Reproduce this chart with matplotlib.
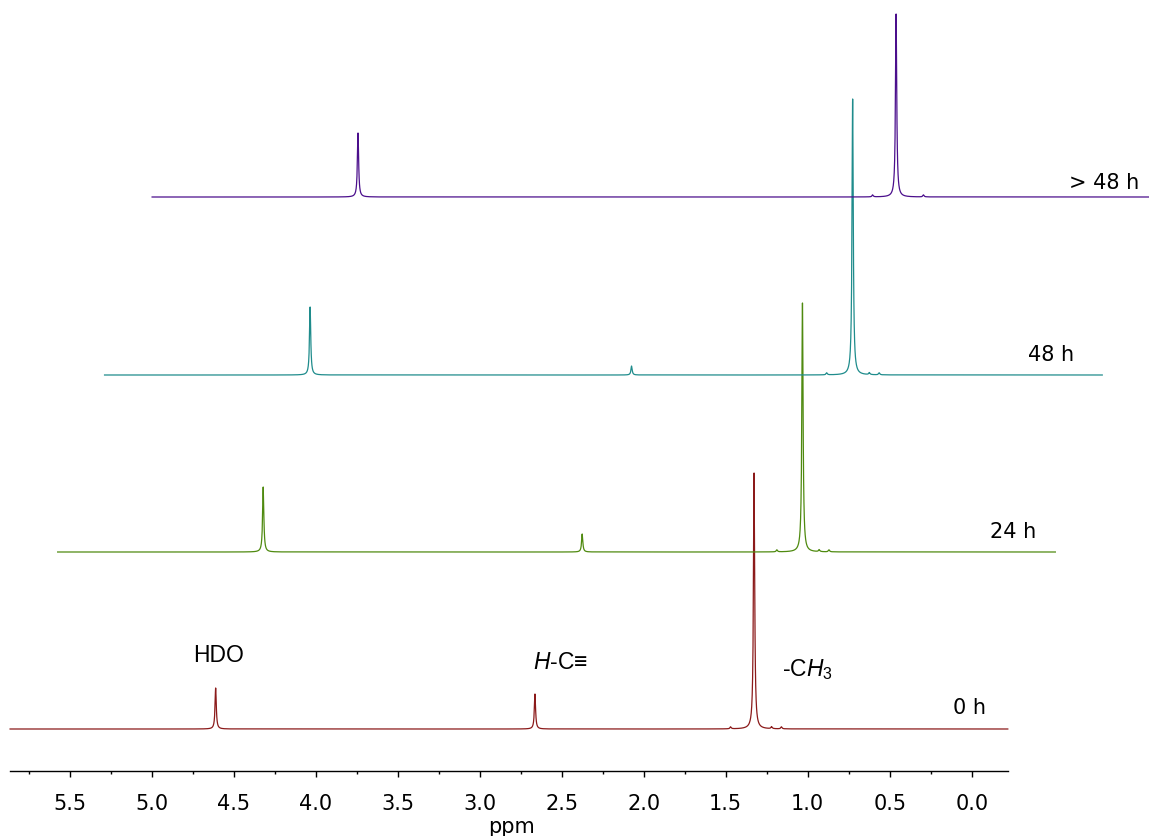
import numpy as np
import matplotlib.pyplot as plt

plt.rcParams['mathtext.fontset'] = 'custom'
plt.rcParams['mathtext.rm'] = 'Liberation Sans'
plt.rcParams['mathtext.it'] = 'Liberation Sans:italic'

# espectros 1H: posicion (ppm) y altura de cada senal
times = ['0 h', '24 h', '48 h', '> 48 h']
colors = ['#8b1a1a', '#4f8a10', '#1f8c8c', '#4b0f8c']

peaks_ppm = [
    [4.61, 2.663, 1.327, 1.47, 1.22, 1.16],
    [4.61, 2.665, 1.322, 1.478, 1.22, 1.16],
    [4.61, 2.65, 1.302, 1.46, 1.20, 1.14],
    [4.608, 1.327, 1.47, 1.16],
]
peaks_h = [
    [41, 35, 256, 2, 2, 2],
    [65, 18, 249, 2, 2, 2],
    [68, 9, 276, 2, 2, 2],
    [64, 183, 2, 2],
]

# desplazamiento de cada espectro (ppm en x, unidades en y)
shift_x = [0.0, 0.29, 0.576, 0.866]
base_y = [107, 284, 461, 639]

ppm_left, ppm_right = 5.864, -0.22
gamma = 0.0045


def espectro(x, pos, alt):
    y = np.zeros_like(x)
    for p, h in zip(pos, alt):
        y = y + h / (1 + ((x - p) / gamma) ** 2)
    return y


fig = plt.figure(figsize=(11.49, 8.37), dpi=100)
ax = fig.add_axes([0, 0, 1, 1])
ax.set_xlim(5.925, -1.081)
ax.set_ylim(0, 837)

x = np.arange(ppm_right, ppm_left, 0.0005)
for i in range(len(times)):
    y = espectro(x, peaks_ppm[i], peaks_h[i])
    ax.plot(x - shift_x[i], y + base_y[i], color=colors[i], lw=0.9)

# etiquetas de tiempo
label_pos = [(0.114, 129), (-0.112, 305), (-0.343, 482), (-0.593, 654)]
for t, (lx, ly) in zip(times, label_pos):
    ax.text(lx, ly, t, fontsize=15, family='DejaVu Sans', ha='left', va='center')

# asignacion de senales
fam = ['Liberation Sans', 'DejaVu Sans']
ax.text(4.59, 181, 'HDO', fontsize=16.5, family=fam, ha='center', va='center')
ax.text(2.505, 174, r'$H$-C≡', fontsize=16.5, family=fam, ha='center', va='center')
ax.text(1.157, 167, r'-C$H_3$', fontsize=16.5, family=fam, ha='left', va='center')

for s in ['left', 'right', 'top']:
    ax.spines[s].set_visible(False)
ax.spines['bottom'].set_position(('data', 65))
ax.spines['bottom'].set_bounds(ppm_left, ppm_right)
ax.spines['bottom'].set_linewidth(1.0)
ax.set_yticks([])
ax.set_xticks(np.arange(0, 5.6, 0.5))
ax.set_xticks(np.arange(0.25, 5.8, 0.5), minor=True)
ax.tick_params(axis='x', which='major', length=4.5, width=1.0, pad=11, labelsize=15)
ax.tick_params(axis='x', which='minor', length=2.3, width=1.0)
ax.set_xticklabels(['%.1f' % t for t in np.arange(0, 5.6, 0.5)])
fig.text(512 / 1149, 1 - 827 / 837, 'ppm', fontsize=15, ha='center', va='center')

fig.savefig('out.png', dpi=100)
